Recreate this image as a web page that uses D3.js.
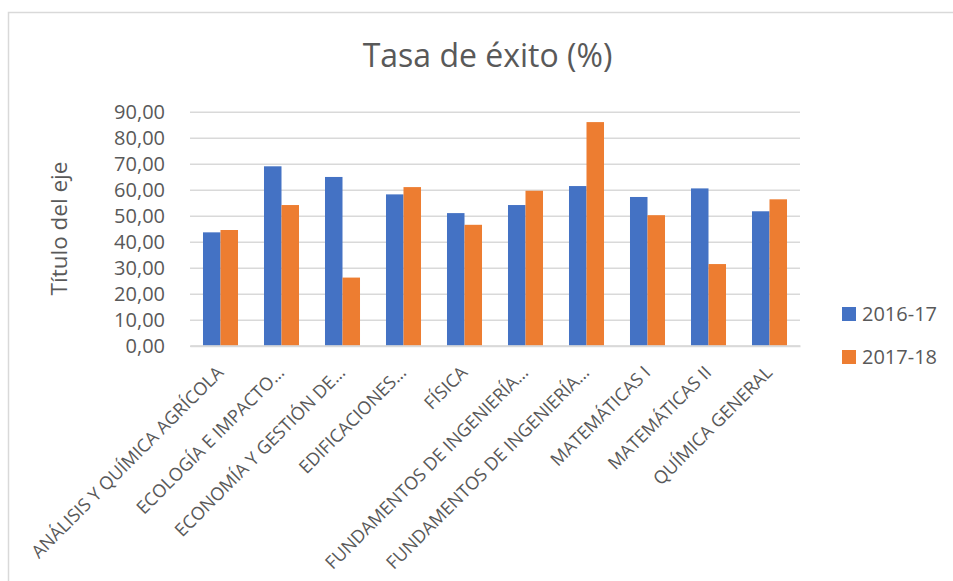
<!DOCTYPE html>
<html>
<head>
<meta charset="utf-8">
<script src="https://cdn.jsdelivr.net/npm/d3@7"></script>
<style>
  html, body { margin: 0; padding: 0; background: #fff; }
  svg { display: block; }
  text { font-family: "Open Sans", "Noto Sans", sans-serif; fill: #595959; }
</style>
</head>
<body>
<svg id="chart" width="953" height="581"></svg>
<script>
// Subjects (labels as shown on the axis)
const categories = [
  "ANÁLISIS Y QUÍMICA AGRÍCOLA",
  "ECOLOGÍA E IMPACTO…",
  "ECONOMÍA Y GESTIÓN DE…",
  "EDIFICACIONES…",
  "FÍSICA",
  "FUNDAMENTOS DE INGENIERÍA…",
  "FUNDAMENTOS DE INGENIERÍA…",
  "MATEMÁTICAS I",
  "MATEMÁTICAS II",
  "QUÍMICA GENERAL"
];
const seriesNames = ["2016-17", "2017-18"];
const values2016 = [43.6, 69.0, 64.9, 58.2, 51.0, 54.1, 61.4, 57.2, 60.5, 51.7];
const values2017 = [44.5, 54.1, 26.2, 61.0, 46.5, 59.6, 86.0, 50.2, 31.4, 56.3];
const yTicks = [0, 10, 20, 30, 40, 50, 60, 70, 80, 90];
const colors = ["#4472C4", "#ED7D31"];

const svg = d3.select("#chart");
const W = 953, H = 581;
const plot = { left: 190, right: 800, top: 111.7, bottom: 345.7 };
const FONT = '"Open Sans", "Noto Sans", sans-serif';

// Chart frame (continues past the right and bottom edges)
svg.append("rect")
  .attr("x", 8.5).attr("y", 12.5)
  .attr("width", W + 20).attr("height", H + 20)
  .attr("fill", "#fff").attr("stroke", "#D9D9D9").attr("stroke-width", 1.5);

// Title
svg.append("text")
  .attr("x", 487.5).attr("y", 67)
  .attr("text-anchor", "middle")
  .attr("font-size", 32)
  .text("Tasa de éxito (%)");

const x = d3.scaleBand()
  .domain(d3.range(categories.length))
  .range([plot.left, plot.right])
  .paddingInner(0)
  .paddingOuter(0);

const groupW = x.bandwidth() * 0.574;
const x1 = d3.scaleBand()
  .domain([0, 1])
  .range([(x.bandwidth() - groupW) / 2, (x.bandwidth() + groupW) / 2]);

const y = d3.scaleLinear().domain([0, 90]).range([plot.bottom, plot.top]);

// Gridlines and y tick labels
const yAxis = d3.axisLeft(y)
  .tickValues(yTicks)
  .tickSize(-(plot.right - plot.left))
  .tickPadding(25)
  .tickFormat(d => d3.format(".2f")(d).replace(".", ","));

const gy = svg.append("g")
  .attr("transform", `translate(${plot.left},0)`)
  .call(yAxis);
gy.select(".domain").remove();
gy.selectAll(".tick line").attr("stroke", "#D9D9D9").attr("stroke-width", 1.4);
gy.selectAll(".tick text")
  .attr("font-size", 20)
  .attr("fill", "#595959")
  .style("font-family", FONT);

// Bars
const rows = categories.map((c, i) => [values2016[i], values2017[i]]);
const groups = svg.append("g").selectAll("g")
  .data(rows)
  .join("g")
  .attr("transform", (d, i) => `translate(${x(i)},0)`);

groups.selectAll("rect")
  .data(d => d)
  .join("rect")
  .attr("x", (d, j) => x1(j))
  .attr("width", x1.bandwidth())
  .attr("y", d => y(d))
  .attr("height", d => y(0) - y(d))
  .attr("fill", (d, j) => colors[j]);

// Category axis
const xAxis = d3.axisBottom(x).tickSize(0).tickFormat(i => categories[i]);
const gx = svg.append("g")
  .attr("transform", `translate(0,${plot.bottom})`)
  .call(xAxis);
gx.select(".domain").attr("stroke", "#D9D9D9").attr("stroke-width", 2);
gx.selectAll(".tick text")
  .attr("font-size", 18)
  .attr("fill", "#595959")
  .style("font-family", FONT)
  .attr("text-anchor", "end")
  .attr("dy", 0)
  .attr("y", 0)
  .attr("transform", "translate(4,28) rotate(-45)");

// Axis title
svg.append("text")
  .attr("transform", "translate(67,228.5) rotate(-90)")
  .attr("text-anchor", "middle")
  .attr("font-size", 22.5)
  .text("Título del eje");

// Legend
const legend = svg.append("g");
seriesNames.forEach((name, j) => {
  const cy = 314 + j * 43;
  legend.append("rect")
    .attr("x", 842).attr("y", cy - 7)
    .attr("width", 14).attr("height", 14)
    .attr("fill", colors[j]);
  legend.append("text")
    .attr("x", 862).attr("y", cy + 7)
    .attr("font-size", 20)
    .text(name);
});
</script>
</body>
</html>
